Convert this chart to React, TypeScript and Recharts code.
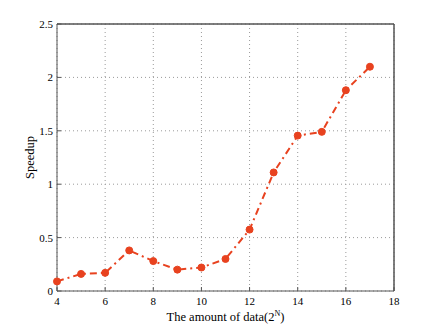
import { LineChart, Line, XAxis, YAxis, CartesianGrid, ReferenceLine } from "recharts";

const LINE_RED = "#e8421f";
const AXIS_GREY = "#555555";
const FONT = "Liberation Serif";

const exponents = [4, 5, 6, 7, 8, 9, 10, 11, 12, 13, 14, 15, 16, 17];
const speedups = [0.09, 0.16, 0.17, 0.38, 0.28, 0.2, 0.22, 0.3, 0.575, 1.11, 1.455, 1.49, 1.88, 2.1];
const xTicks = [4, 6, 8, 10, 12, 14, 16, 18];
const yTicks = [0, 0.5, 1, 1.5, 2, 2.5];

const data = exponents.map((n, i) => ({ n, speedup: speedups[i] }));

function XLabel({ viewBox }: any) {
  const cx = viewBox.x + viewBox.width / 2;
  return (
    <text x={cx} y={321} textAnchor="middle" fontFamily={FONT} fontSize={12.5} fill="#000">
      The amount of data(2
      <tspan dy={-5} fontSize={8}>N</tspan>
      <tspan dy={5}>)</tspan>
    </text>
  );
}

function YLabel({ viewBox }: any) {
  const cy = viewBox.y + viewBox.height / 2;
  return (
    <text
      x={30}
      y={cy}
      transform={`rotate(-90, 30, ${cy})`}
      textAnchor="middle"
      dominantBaseline="central"
      fontFamily={FONT}
      fontSize={12.5}
      fill="#000"
    >
      Speedup
    </text>
  );
}

function XTick({ x, y, payload }: any) {
  return (
    <text x={x} y={y + 10} textAnchor="middle" fontFamily={FONT} fontSize={11} fill="#000">
      {payload.value}
    </text>
  );
}

function YTick({ x, y, payload }: any) {
  return (
    <text x={x} y={y + 4} textAnchor="end" fontFamily={FONT} fontSize={11} fill="#000">
      {payload.value}
    </text>
  );
}

export default function App() {
  return (
    <div style={{ position: "absolute", left: 0, top: 0, background: "#fff" }}>
      <LineChart width={436} height={328} data={data} margin={{ top: 23, right: 41, left: 0, bottom: 0 }}>
        <CartesianGrid stroke="#9a9a9a" strokeDasharray="1 3" />
        <XAxis
          dataKey="n"
          type="number"
          domain={[4, 18]}
          ticks={xTicks}
          height={37}
          stroke={AXIS_GREY}
          tickSize={-4}
          tickMargin={8}
          tick={<XTick />}
          label={<XLabel />}
        />
        <XAxis
          xAxisId="top"
          orientation="top"
          dataKey="n"
          type="number"
          domain={[4, 18]}
          ticks={xTicks}
          height={1}
          stroke={AXIS_GREY}
          tickSize={-4}
          tick={false}
        />
        <YAxis
          type="number"
          domain={[0, 2.5]}
          ticks={yTicks}
          width={57}
          stroke={AXIS_GREY}
          tickSize={-4}
          tickMargin={8}
          tick={<YTick />}
          label={<YLabel />}
        />
        <YAxis
          yAxisId="right"
          orientation="right"
          type="number"
          domain={[0, 2.5]}
          ticks={yTicks}
          width={1}
          stroke={AXIS_GREY}
          tickSize={-4}
          tick={false}
        />
        <ReferenceLine x={18} stroke={AXIS_GREY} />
        <ReferenceLine y={2.5} stroke={AXIS_GREY} />
        <Line
          dataKey="speedup"
          stroke={LINE_RED}
          strokeWidth={2}
          strokeDasharray="7 4 2 4"
          dot={{ r: 3.5, fill: LINE_RED, stroke: LINE_RED, strokeWidth: 1, strokeDasharray: "" }}
          isAnimationActive={false}
        />
      </LineChart>
    </div>
  );
}
